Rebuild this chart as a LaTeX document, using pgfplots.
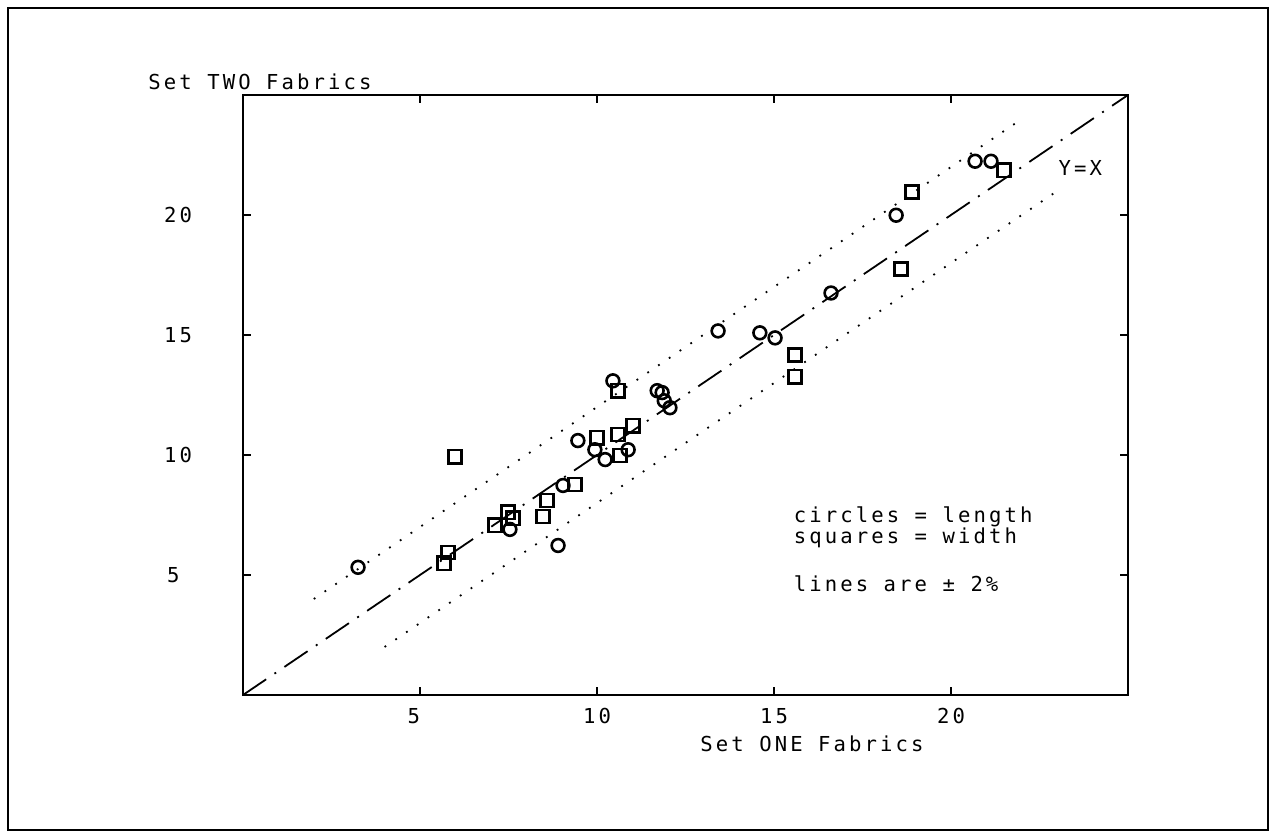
\documentclass[border=0pt]{standalone}
\usepackage{fontspec}
\setmainfont[LetterSpace=15]{DejaVu Sans Mono}
\usepackage{pgfplots}
\pgfplotsset{compat=1.18}
\begin{document}
\begin{tikzpicture}
\useasboundingbox (0,0) rectangle (637pt,417pt);
\fill[white] (0,0) rectangle (637pt,417pt);
\draw[line width=1.2pt] (4pt,2pt) rectangle (634pt,413pt);
\begin{axis}[
  at={(121.5pt,69.5pt)}, anchor=south west,
  scale only axis, width=442.5pt, height=300pt,
  xmin=0, xmax=25, ymin=0, ymax=25,
  xtick={5,10,15,20}, ytick={5,10,15,20},
  xticklabels={5\phantom{0},10,15,20},
  yticklabels={5\phantom{0},10,15,20},
  tick align=inside, major tick length=4pt,
  axis line style={line width=1pt},
  every tick/.style={line width=1pt, black},
  /pgf/number format/assume math mode=true,
  ticklabel style={font=\fontsize{10.3}{12}\selectfont},
  xticklabel style={yshift=-3pt},
  yticklabel style={xshift=-22pt},
  clip=false,
]
% y = x
\addplot[line width=0.9pt, dash pattern=on 14pt off 5pt on 1pt off 5pt] coordinates {(0,0) (25,25)};
% +/- 2 lines
\addplot[line width=0.9pt, dash pattern=on 0.9pt off 5.6pt] coordinates {(2,4) (22,24)};
\addplot[line width=0.9pt, dash pattern=on 0.9pt off 5.6pt] coordinates {(4,2) (23,21)};
% circles = length
\addplot[only marks, mark=o, mark size=3.2pt, mark options={line width=1.3pt}] coordinates {
(3.25,5.32) (10.45,13.09) (9.46,10.60) (9.94,10.22) (10.23,9.81) (10.88,10.22)
(7.54,6.90) (8.90,6.23) (9.04,8.73)
(11.70,12.68) (11.84,12.60) (11.90,12.26) (12.06,11.97)
(13.42,15.17) (14.60,15.09) (15.03,14.88) (16.61,16.75) (18.45,19.99)
(20.68,22.24) (21.13,22.24)
};
% squares = width
\addplot[only marks, mark=square, mark size=3.3pt, mark options={line width=1.3pt}] coordinates {
(5.68,5.49) (5.79,5.94) (5.99,9.93) (7.12,7.07) (7.49,7.61) (7.63,7.36)
(8.47,7.44) (8.59,8.10) (9.38,8.77) (10.00,10.72) (10.59,10.85) (11.02,11.22)
(10.65,9.98) (10.59,12.68) (15.59,14.17) (15.59,13.26) (18.59,17.75)
(18.90,20.95) (21.50,21.86)
};
\node[anchor=center, font=\fontsize{10.3}{12}\selectfont] at (axis cs:23.65,21.95) {Y=X};
\node[anchor=west, inner sep=0pt, font=\fontsize{10.3}{12}\selectfont] at (axis cs:15.55,7.44) {circles = length};
\node[anchor=west, inner sep=0pt, font=\fontsize{10.3}{12}\selectfont] at (axis cs:15.55,6.53) {squares = width};
\node[anchor=west, inner sep=0pt, font=\fontsize{10.3}{12}\selectfont] at (axis cs:15.55,4.65) {lines are ± 2\%};
\end{axis}
\node[anchor=west, inner sep=0pt, font=\fontsize{10.3}{12}\selectfont] at (74pt,376pt) {Set TWO Fabrics};
\node[anchor=center, inner sep=0pt, font=\fontsize{10.3}{12}\selectfont] at (406pt,45pt) {Set ONE Fabrics};
\end{tikzpicture}
\end{document}
